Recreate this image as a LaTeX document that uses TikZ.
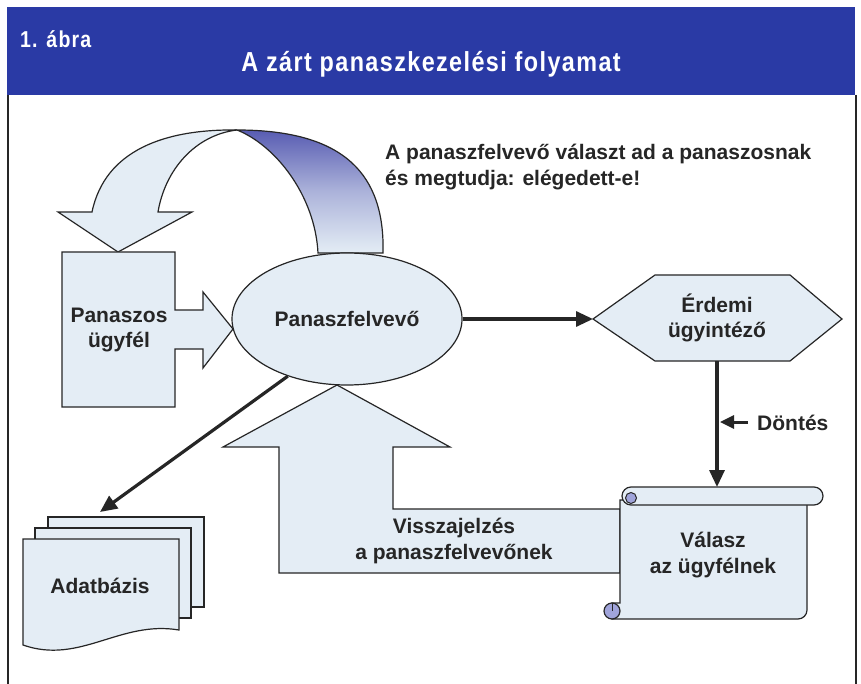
\documentclass[tikz,border=0pt]{standalone}
\usepackage{fontspec}
\usepackage{graphicx}
\setmainfont{Liberation Sans}
\newfontfamily\hdfont{Liberation Sans}[LetterSpace=6]
\usetikzlibrary{shapes.geometric,arrows.meta}
\definecolor{pale}{RGB}{228,237,245}
\definecolor{hdblue}{RGB}{42,58,165}
\definecolor{band}{RGB}{88,92,178}
\definecolor{curl}{RGB}{160,164,218}
\definecolor{ink}{RGB}{38,38,38}
\begin{document}
\begin{tikzpicture}[x=1pt,y=-1pt,
  shp/.style={draw=ink, line width=1.2pt, fill=pale, line join=miter},
  lbl/.style={font=\bfseries\fontsize{21}{25.5}\selectfont, text=ink, align=center, inner sep=0pt},
  hdr/.style={font=\hdfont\bfseries, text=white, inner sep=0pt},
  conn/.style={draw=ink, line width=3.2pt, -{Triangle[length=17pt,width=15pt]}},
  frame/.style={draw=ink, line width=1.2pt},
]
\useasboundingbox (0,0) rectangle (861,684);
\fill[white] (0,0) rectangle (861,684);
% header
\fill[hdblue] (7,7) rectangle (855,95);
\node[hdr, anchor=base west] (fignum) at (20,48) {\scalebox{0.85}[1]{\fontsize{23}{27}\selectfont 1. ábra}};
\node[hdr, anchor=base] (title) at (431,72) {\scalebox{0.85}[1]{\fontsize{27.5}{32}\selectfont A zárt panaszkezelési folyamat}};
\draw[frame] (8,95) -- (8,684);
\draw[frame] (856,95) -- (856,684);

% curved return arrow
\draw[shp] (92,212) .. controls (105,150) and (165,129) .. (237,130)
  .. controls (195,135) and (165,170) .. (158,212)
  -- (192,212) -- (118,252) -- (58,212) -- cycle;
\draw[shp, top color=band, bottom color=pale, middle color=band!40!pale]
  (237,130) .. controls (345,130) and (385,175) .. (383,253)
  -- (318,253) .. controls (315,195) and (275,145) .. (237,130) -- cycle;

% customer block with arrow
\draw[shp] (62,252) -- (175,252) -- (175,310) -- (203,310) -- (203,292) -- (233,329)
  -- (203,368) -- (203,349) -- (175,349) -- (175,407) -- (62,407) -- cycle;
\node[lbl] (cust) at (119,330) {Panaszos\\ügyfél};

% feedback up arrow
\draw[shp] (279,573) -- (279,447) -- (223,447) -- (337,385) -- (450,447) -- (393,447)
  -- (393,509) -- (620,509) -- (620,573) -- cycle;
\node[lbl] (feedback) at (454,541) {Visszajelzés\\a panaszfelvevőnek};

% ellipse
\node[ellipse, shp, minimum width=230pt, minimum height=132pt, inner sep=0pt,
      font=\bfseries\fontsize{21}{25.5}\selectfont, text=ink] (felv) at (347,319) {Panaszfelvevő};

% hexagon
\draw[shp] (593,319) -- (655,275) -- (790,275) -- (842,319) -- (790,361) -- (655,361) -- cycle;
\node[lbl] (erd) at (717,318) {Érdemi\\ügyintéző};
\coordinate (hexW) at (593,319);
\coordinate (hexS) at (717,361);
\coordinate (scrollN) at (717,487);

% scroll
\draw[shp] (620,500) -- (807,500) [rounded corners=9pt] -- (807,619) [sharp corners] -- (612,619)
  -- (612,603) -- (620,603) -- cycle;
\draw[draw=ink, line width=1.2pt, fill=curl] (612,611) circle (8);
\draw[draw=ink, line width=1pt] (612,611) -- (612,603);
\draw[shp, rounded corners=9pt] (622,487) rectangle (823,505);
\draw[draw=ink, line width=1pt, fill=curl] (631,498) circle (5.5);
\node[lbl] (answer) at (713,555) {Válasz\\az ügyfélnek};

% database
\draw[shp] (48,517) rectangle (204,607);
\draw[shp] (35,528) rectangle (191,618);
\draw[shp] (23,539) -- (179,539) -- (179,630) .. controls (120,620) and (80,665) .. (23,645) -- cycle;
\node[lbl] (db) at (100,586) {Adatbázis};
\coordinate (dbTop) at (100,512);

% connectors
\draw[conn] (felv.east) -- (hexW);
\draw[conn] (hexS) -- (scrollN);
\draw[conn] (felv.224) -- (dbTop);
\node[lbl, anchor=base west] (dont) at (757,430) {Döntés};
\coordinate (dontA) at (748,422);
\coordinate (dontB) at (720,422);
\draw[draw=ink, line width=3pt, -{Triangle[length=14pt,width=13pt]}] (dontA) -- (dontB);

% top note
\node[lbl, align=left, anchor=north west] (note) at (385,144) {A panaszfelvevő választ ad a panaszosnak\\és megtudja: elégedett-e!};
\end{tikzpicture}
\end{document}
